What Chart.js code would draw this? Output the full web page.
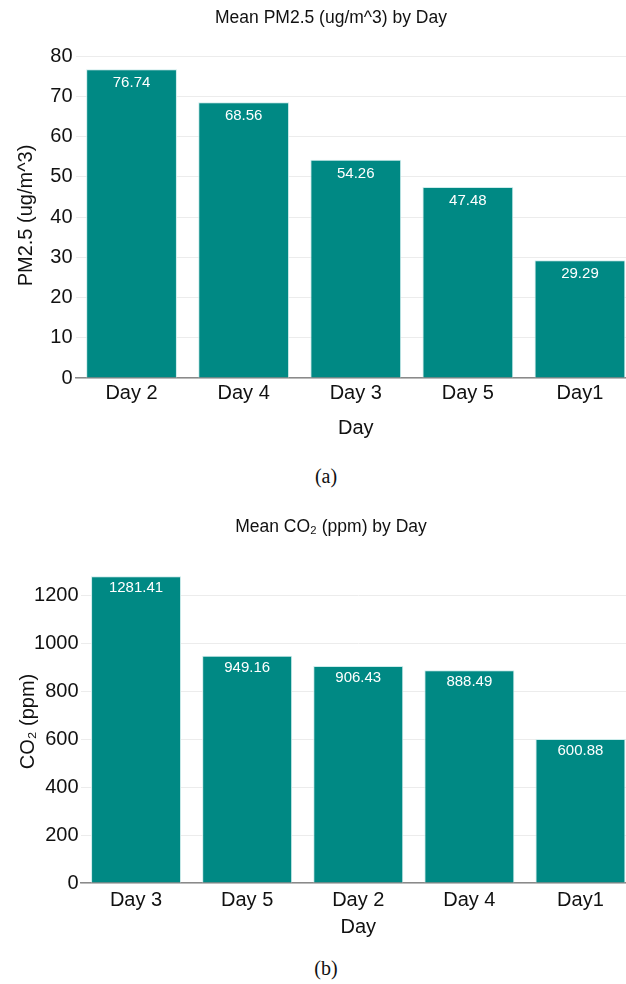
<!DOCTYPE html>
<html>
<head>
<meta charset="utf-8">
<script src="https://cdn.jsdelivr.net/npm/chart.js@4.4.1/dist/chart.umd.min.js"></script>
<style>
  html, body { margin: 0; padding: 0; background: #ffffff; }
  body { width: 626px; height: 984px; position: relative; overflow: hidden; }
  .wrap { position: absolute; left: 0; width: 626px; overflow: hidden; }
  #w1 { top: 0; height: 445px; }
  #w2 { top: 500px; height: 445px; }
  canvas { display: block; }
  .cap { position: absolute; left: 0; width: 652px; text-align: center;
         font-family: "Liberation Serif", "DejaVu Serif", serif; font-size: 20px; color: #111; line-height: 24px; }
</style>
</head>
<body>
<div class="wrap" id="w1"><canvas id="c1" width="662" height="440"></canvas></div>
<div class="wrap" id="w2"><canvas id="c2" width="662" height="440"></canvas></div>
<div class="cap" style="top:464px;">(a)</div>
<div class="cap" style="top:956px;">(b)</div>
<script>
const pmDays = ['Day 2', 'Day 4', 'Day 3', 'Day 5', 'Day1'];
const pmValues = [76.74, 68.56, 54.26, 47.48, 29.29];
const pmTicks = [0, 10, 20, 30, 40, 50, 60, 70, 80];
const pmMax = 80.78;

const co2Days = ['Day 3', 'Day 5', 'Day 2', 'Day 4', 'Day1'];
const co2Values = [1281.41, 949.16, 906.43, 888.49, 600.88];
const co2Ticks = [0, 200, 400, 600, 800, 1000, 1200];
const co2Max = 1348.8;

const FONT = '"Liberation Sans", Arial, sans-serif';
const BAR = '#008984';

const valueLabels = {
  id: 'valueLabels',
  afterDatasetsDraw(chart, args, opts) {
    const ctx = chart.ctx;
    const meta = chart.getDatasetMeta(0);
    const data = chart.data.datasets[0].data;
    ctx.save();
    ctx.fillStyle = '#ffffff';
    ctx.font = '15px ' + FONT;
    ctx.textAlign = 'center';
    ctx.textBaseline = 'middle';
    meta.data.forEach((bar, i) => {
      ctx.fillText(data[i].toFixed(2), bar.x, bar.y + opts.offset);
    });
    ctx.restore();
  }
};

function makeChart(id, labels, values, ticks, max, cfg) {
  return new Chart(document.getElementById(id), {
    type: 'bar',
    data: {
      labels: labels,
      datasets: [{
        data: values,
        backgroundColor: BAR,
        borderColor: '#cdeceb',
        borderWidth: 1,
        barPercentage: 0.81,
        categoryPercentage: 1.0
      }]
    },
    plugins: [valueLabels],
    options: {
      responsive: false,
      animation: false,
      devicePixelRatio: 1,
      layout: { padding: 0 },
      plugins: {
        legend: { display: false },
        tooltip: { enabled: false },
        valueLabels: { offset: cfg.labelOffset },
        title: {
          display: true,
          text: cfg.title,
          color: '#111111',
          font: { family: FONT, size: 17.5, weight: 'normal' },
          padding: { top: cfg.titleTop, bottom: cfg.titleBottom }
        }
      },
      scales: {
        x: {
          grid: { display: false, drawTicks: false },
          border: { display: true, color: '#8a8a8a', width: 1.5 },
          afterFit: s => { s.height = cfg.xHeight; },
          ticks: { color: '#111111', font: { family: FONT, size: 20 }, padding: cfg.xTickPad, maxRotation: 0 },
          title: { display: true, text: 'Day', color: '#111111', font: { family: FONT, size: 20 },
                   padding: { top: 0, bottom: cfg.xTitleBottom } }
        },
        y: {
          min: 0,
          max: max,
          afterBuildTicks: s => { s.ticks = ticks.map(v => ({ value: v })); },
          afterFit: s => { s.width = cfg.yWidth; },
          grid: { color: '#ececec', lineWidth: 1, drawTicks: false },
          border: { display: false },
          ticks: { color: '#111111', font: { family: FONT, size: 20 }, padding: cfg.yTickPad,
                   callback: v => String(v) },
          title: { display: true, text: cfg.yTitle, color: '#111111', font: { family: FONT, size: 20 },
                   padding: { top: cfg.yTitleTop, bottom: 0 } }
        },
        yR: {
          position: 'right',
          display: true,
          min: 0,
          max: max,
          afterFit: s => { s.width = cfg.rightWidth; },
          grid: { display: false, drawTicks: false },
          border: { display: false },
          ticks: { display: false },
          title: { display: false }
        }
      }
    }
  });
}

makeChart('c1', pmDays, pmValues, pmTicks, pmMax, {
  title: 'Mean PM2.5 (ug/m^3) by Day',
  yTitle: 'PM2.5 (ug/m^3)',
  rightWidth: 26,
  titleTop: 8, titleBottom: 24,
  xHeight: 62, xTickPad: 3, xTitleBottom: 0,
  yWidth: 75.5, yTitleTop: 14, yTickPad: 3,
  labelOffset: 14
});

makeChart('c2', co2Days, co2Values, co2Ticks, co2Max, {
  title: 'Mean CO\u2082 (ppm) by Day',
  yTitle: 'CO\u2082 (ppm)',
  rightWidth: 26,
  titleTop: 17, titleBottom: 22,
  xHeight: 57, xTickPad: 5, xTitleBottom: 1,
  yWidth: 80.5, yTitleTop: 16, yTickPad: 2,
  labelOffset: 12
});
</script>
</body>
</html>
